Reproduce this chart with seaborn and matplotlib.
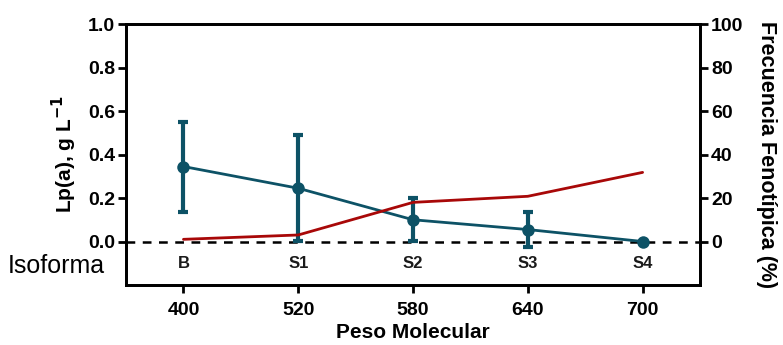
import numpy as np
import pandas as pd
import matplotlib
matplotlib.use("Agg")
import matplotlib.pyplot as plt
import seaborn as sns

# --- datos ---
peso_molecular = ["400", "520", "580", "640", "700"]
isoformas = ["B", "S1", "S2", "S3", "S4"]
lpa_media = [0.345, 0.245, 0.100, 0.055, 0.000]
lpa_sup = [0.550, 0.488, 0.200, 0.136, 0.000]
lpa_inf = [0.138, 0.002, 0.004, -0.024, 0.000]
frecuencia = [1.0, 3.0, 18.0, 20.8, 31.8]

TEAL = "#0d5266"
ROJO = "#a80808"

sns.set_style("ticks")
plt.rcParams["font.family"] = ["Liberation Sans", "DejaVu Sans"]
plt.rcParams["axes.linewidth"] = 2
plt.rcParams["text.color"] = "black"
plt.rcParams["axes.labelcolor"] = "black"
plt.rcParams["xtick.color"] = "black"
plt.rcParams["ytick.color"] = "black"

df = pd.DataFrame({
    "pos": np.arange(len(peso_molecular)),
    "lpa": lpa_media,
    "frec": frecuencia,
})

fig = plt.figure(figsize=(7.83, 3.45), dpi=100)
ax = fig.add_axes([0.161, 0.174, 0.733, 0.756])

# linea de Lp(a) con barras de error
sns.lineplot(data=df, x="pos", y="lpa", ax=ax, color=TEAL, lw=2,
             marker="o", markersize=9, markeredgewidth=0, zorder=4)
yerr = [np.array(lpa_media) - np.array(lpa_inf),
        np.array(lpa_sup) - np.array(lpa_media)]
ax.errorbar(df["pos"], lpa_media, yerr=yerr, fmt="none", ecolor=TEAL,
            elinewidth=3, capsize=3.8, capthick=3, zorder=4)

ax.axhline(0, color="black", lw=1.8, ls=(0, (3.5, 3)), zorder=2)

ax.set_xlim(-0.5, len(peso_molecular) - 0.5)
ax.set_ylim(-0.2, 1.0)
ax.set_yticks(np.arange(0, 1.01, 0.2))
ax.set_yticklabels([f"{v:.1f}" for v in np.arange(0, 1.01, 0.2)])
ax.set_xticks(df["pos"])
ax.set_xticklabels(peso_molecular)
ax.tick_params(direction="out", length=6, width=2, labelsize=14, pad=2)
ax.tick_params(axis="x", pad=6)
for lab in ax.get_xticklabels() + ax.get_yticklabels():
    lab.set_fontweight("bold")

ax.set_xlabel("Peso Molecular", fontsize=15, fontweight="bold", labelpad=3)
ax.set_ylabel("Lp(a), g L$^{\\mathbf{-1}}$", fontsize=15, fontweight="bold", labelpad=6)

for i, iso in enumerate(isoformas):
    ax.text(i, -0.1, iso, ha="center", va="center", fontsize=12,
            fontweight="bold", color="#1a1a1a")

fig.text(0.01, 0.228, "Isoforma", fontsize=18, ha="left", va="center")

# eje derecho: frecuencia fenotipica
ax2 = ax.twinx()
sns.lineplot(data=df, x="pos", y="frec", ax=ax2, color=ROJO, lw=2)
ax2.set_ylim(-20, 100)
ax2.set_yticks(np.arange(0, 101, 20))
ax2.tick_params(direction="out", length=6, width=2, labelsize=14, pad=2)
for lab in ax2.get_yticklabels():
    lab.set_fontweight("bold")
ax2.set_ylabel("Frecuencia Fenotípica (%)", fontsize=15.5, fontweight="bold",
               rotation=-90, labelpad=24)
ax2.set_xlim(-0.5, len(peso_molecular) - 0.5)

for a in (ax, ax2):
    for s in a.spines.values():
        s.set_visible(True)
        s.set_linewidth(2)
        s.set_color("black")

fig.savefig("out.png", dpi=100)
